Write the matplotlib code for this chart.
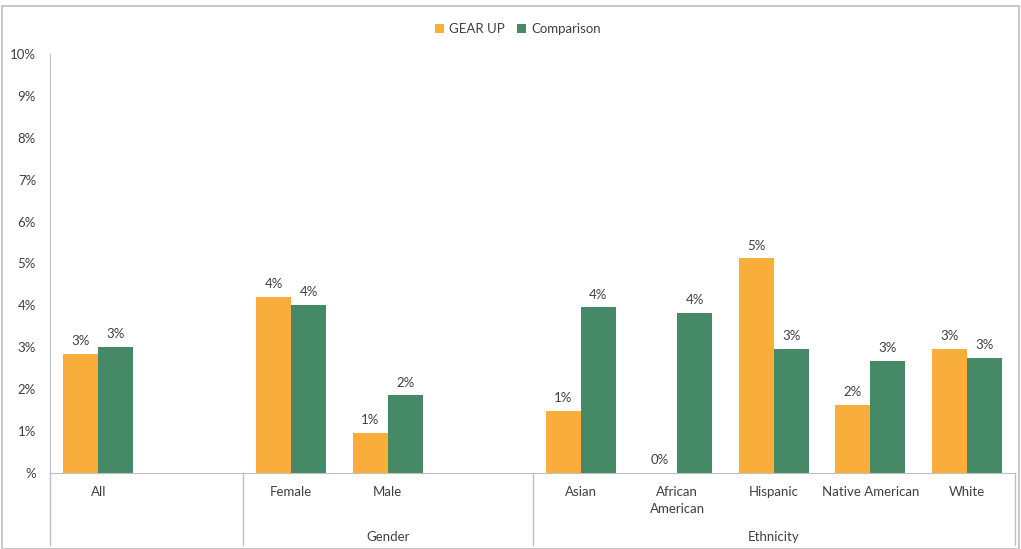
import matplotlib.pyplot as plt
from matplotlib.patches import Rectangle
from matplotlib.lines import Line2D

plt.rcParams['font.family'] = ['Lato', 'DejaVu Sans']

categories = ['All', '', 'Female', 'Male', '', 'Asian', 'African\nAmerican',
              'Hispanic', 'Native American', 'White']
gear_up = [2.85, None, 4.2, 0.95, None, 1.48, 0.0, 5.12, 1.63, 2.97]
comparison = [3.0, None, 4.0, 1.85, None, 3.95, 3.82, 2.95, 2.68, 2.75]
groups = [('Gender', 1.5, 4.5), ('Ethnicity', 4.5, 9.5)]
separators = [-0.5, 1.5, 4.5, 9.5]
y_ticks = list(range(0, 11))
y_labels = ['%'] + [f'{t}%' for t in y_ticks[1:]]

orange = '#F9AE3B'
green = '#458966'
text_col = '#404040'
line_col = '#BFBFBF'

W, H = 1021, 549
fig = plt.figure(figsize=(W / 100, H / 100), dpi=100)
ax = fig.add_axes([50 / W, (H - 473) / H, (1015 - 50) / W, (473 - 54) / H])

width = 0.363
xs = list(range(len(categories)))
for x, g, c in zip(xs, gear_up, comparison):
    if g is None:
        continue
    ax.bar(x - width / 2, g, width, color=orange, label='GEAR UP' if x == 0 else None)
    ax.bar(x + width / 2, c, width, color=green, label='Comparison' if x == 0 else None)
    for xv, v in ((x - width / 2, g), (x + width / 2, c)):
        ax.annotate(f'{round(v):.0f}%', (xv, v), xytext=(0, 5), textcoords='offset points',
                    ha='center', va='bottom', fontsize=9.5, color=text_col)

ax.set_xlim(-0.5, 9.5)
ax.set_ylim(0, 10)
ax.set_yticks(y_ticks)
ax.set_yticklabels(y_labels, fontsize=9.5, color=text_col)
ax.tick_params(axis='y', length=0, pad=10)
ax.set_xticks([])
for s in ('top', 'right'):
    ax.spines[s].set_visible(False)
ax.spines['left'].set_color(line_col)
ax.spines['bottom'].set_color(line_col)

tr = ax.get_xaxis_transform()
for x, lab in zip(xs, categories):
    if lab:
        ax.text(x, -0.03, lab, transform=tr, ha='center', va='top', fontsize=9.5,
                color=text_col, linespacing=1.5)
for name, a, b in groups:
    ax.text((a + b) / 2, -0.139, name, transform=tr, ha='center', va='top',
            fontsize=9.5, color=text_col)
for s in separators:
    ax.add_line(Line2D([s, s], [0, -0.172], transform=tr, color=line_col,
                       lw=1, clip_on=False))

fig.legend(loc='upper center', bbox_to_anchor=(0.507, 0.98), ncol=2, frameon=False,
           fontsize=9.5, handlelength=0.7, handleheight=0.7, handletextpad=0.4,
           columnspacing=0.9, labelcolor=text_col)

fig.patches.append(Rectangle((2 / W, 0), (1019 - 2) / W, (H - 6) / H, transform=fig.transFigure,
                             fill=False, edgecolor='#BFBFBF', lw=1.2))

plt.savefig('out.png', dpi=100)
plt.close(fig)
